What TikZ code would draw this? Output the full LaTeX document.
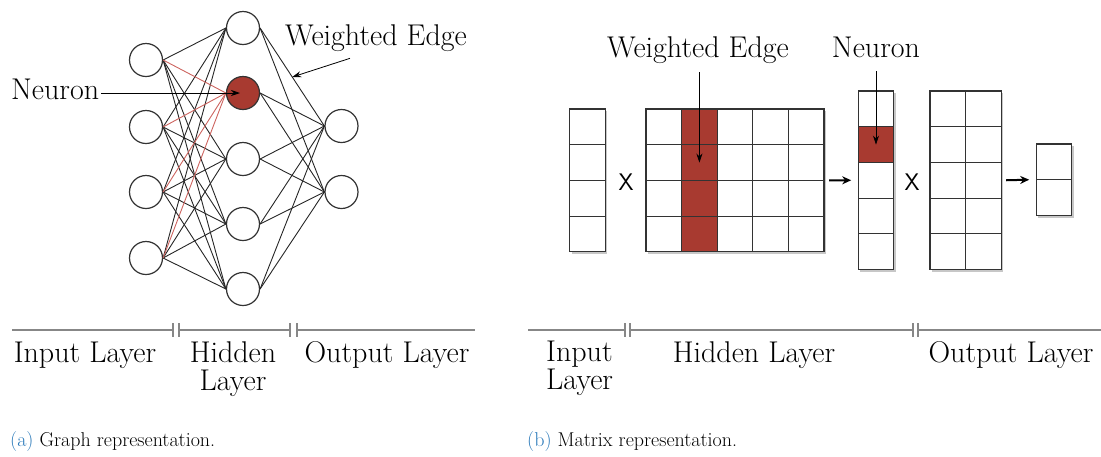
\documentclass[tikz,border=0pt]{standalone}
\usetikzlibrary{arrows.meta,calc}
\definecolor{nred}{RGB}{168,58,48}
\definecolor{ered}{RGB}{205,100,95}
\definecolor{capblue}{RGB}{40,120,185}
\definecolor{tline}{RGB}{135,135,135}
\begin{document}
\begin{tikzpicture}[x=1pt,y=-1pt,
  neuron/.style={circle, draw=black!80, line width=1.2pt, fill=white, minimum size=33pt, inner sep=0pt},
  edge/.style={black!85, line width=0.9pt},
  redge/.style={ered, line width=0.9pt},
  lbl/.style={font=\fontsize{30}{28}\selectfont, inner sep=0pt},
  captxt/.style={font=\fontsize{20}{22}\selectfont, inner sep=0pt, anchor=base west},
  cell/.style={draw=black!80, line width=1.2pt, minimum width=35.6pt, minimum height=35.7pt, inner sep=0pt, outer sep=0pt},
  note/.style={-{Stealth[length=9pt,width=6pt]}, line width=0.8pt},
  flow/.style={-{Stealth[length=9pt,width=8pt]}, line width=2pt},
  tl/.style={tline, line width=2.4pt},
  tickmark/.style={tline, line width=1.4pt},
  times/.style={font=\sffamily\fontsize{24}{24}\selectfont, inner sep=0pt},
  shade/.style={fill=black!22}
]
\useasboundingbox (0,0) rectangle (1101,456);

% ---------------- (a) graph ----------------
\foreach \y [count=\i] in {60,127,192,258}
  \node[neuron] (i\i) at (146,\y) {};
\foreach \y/\f [count=\j] in {28/white,93/nred,159/white,224/white,289/white}
  \node[neuron, fill=\f] (h\j) at (243,\y) {};
\foreach \y [count=\k] in {126,192}
  \node[neuron] (o\k) at (341.5,\y) {};

\foreach \i in {1,...,4}
  \foreach \j in {1,3,4,5}
    \draw[edge] (i\i.east) -- (h\j.west);
\foreach \i in {1,...,4}
  \draw[redge] (i\i.east) -- (h2.west);
\foreach \j in {1,...,5}
  \foreach \k in {1,2}
    \draw[edge] (h\j.east) -- (o\k.west);

\node[lbl, anchor=base west] (nA) at (11,99) {Neuron};
\draw[note] ($(nA.east |- h2.center)+(2,0)$) -- ([xshift=-3pt]h2.center);

\node[lbl, anchor=base west] (weA) at (285,45) {Weighted Edge};
\coordinate (weTip) at ($(h1.east)!0.5!(o1.west)$);
\draw[note] ($(weA.south west)+(65,7)$) -- (weTip);

% timeline (a)
\draw[tl] (12,330) -- (173,330);
\draw[tickmark] (173,323) -- (173,337);
\draw[tickmark] (179,323) -- (179,337);
\draw[tl] (179,330) -- (290,330);
\draw[tickmark] (290,323) -- (290,337);
\draw[tickmark] (297,323) -- (297,337);
\draw[tl] (297,330) -- (475,330);

\node[lbl, anchor=base] (lIn) at (85,362) {Input Layer};
\node[lbl, anchor=north, align=center] (lHid) at (233,341) {Hidden\\Layer};
\node[lbl, anchor=base] (lOut) at (387,362) {Output Layer};

\node[captxt] (capA) at (10,446) {\textcolor{capblue}{(a)} Graph representation.};

% ---------------- (b) matrices ----------------
% soft shadows
\fill[shade] (571.5,111) rectangle (606.5,254);
\fill[shade] (647.5,111) rectangle (825.5,254);
\fill[shade] (859.5,93) rectangle (895.5,271.5);
\fill[shade] (931.5,93) rectangle (1002.5,271.5);
\fill[shade] (1037.5,146) rectangle (1073.5,217.5);

\foreach \r in {1,...,4}
  \node[cell, fill=white] (iv\r) at (587.5,{109+35.7*(\r-0.5)}) {};
\foreach \r in {1,...,4}
  \foreach \c/\f in {1/white,2/nred,3/white,4/white,5/white}
    \node[cell, fill=\f] (w\r\c) at ({646+35.6*(\c-0.5)},{109+35.7*(\r-0.5)}) {};
\foreach \r/\f in {1/white,2/nred,3/white,4/white,5/white}
  \node[cell, fill=\f] (hv\r) at (876,{91+35.7*(\r-0.5)}) {};
\foreach \r in {1,...,5}
  \foreach \c in {1,2}
    \node[cell, fill=white] (O\r\c) at ({930+35.6*(\c-0.5)},{91+35.7*(\r-0.5)}) {};
\foreach \r in {1,2}
  \node[cell, fill=white] (ov\r) at (1054,{144+35.7*(\r-0.5)}) {};

\node[times] (x1) at (626,182) {X};
\node[times] (x2) at (912,182) {X};

\draw[flow] ([xshift=5pt]w25.south east) -- ([xshift=-7pt]hv3.west);
\draw[flow] ([xshift=5pt]O32.east) -- ([xshift=-7pt]ov1.south west);

\node[lbl, anchor=base] (weB) at (698,57) {Weighted Edge};
\node[lbl, anchor=base] (nB) at (876,57) {Neuron};
\draw[note] ($(w22.center |- weB.south)+(0,9)$) -- (w22.center);
\draw[note] ($(hv2.center |- nB.south)+(0,14)$) -- (hv2.center);

% timeline (b)
\draw[tl] (528,330) -- (625,330);
\draw[tickmark] (625,323) -- (625,337);
\draw[tickmark] (630,323) -- (630,337);
\draw[tl] (630,330) -- (913,330);
\draw[tickmark] (913,323) -- (913,337);
\draw[tickmark] (918,323) -- (918,337);
\draw[tl] (918,330) -- (1101,330);

\node[lbl, anchor=north west, align=left] (rIn) at (546,341) {Input\\Layer};
\node[lbl, anchor=base] (rHid) at (754,362) {Hidden Layer};
\node[lbl, anchor=base] (rOut) at (1011,362) {Output Layer};

\node[captxt] (capB) at (527,446) {\textcolor{capblue}{(b)} Matrix representation.};
\end{tikzpicture}
\end{document}
